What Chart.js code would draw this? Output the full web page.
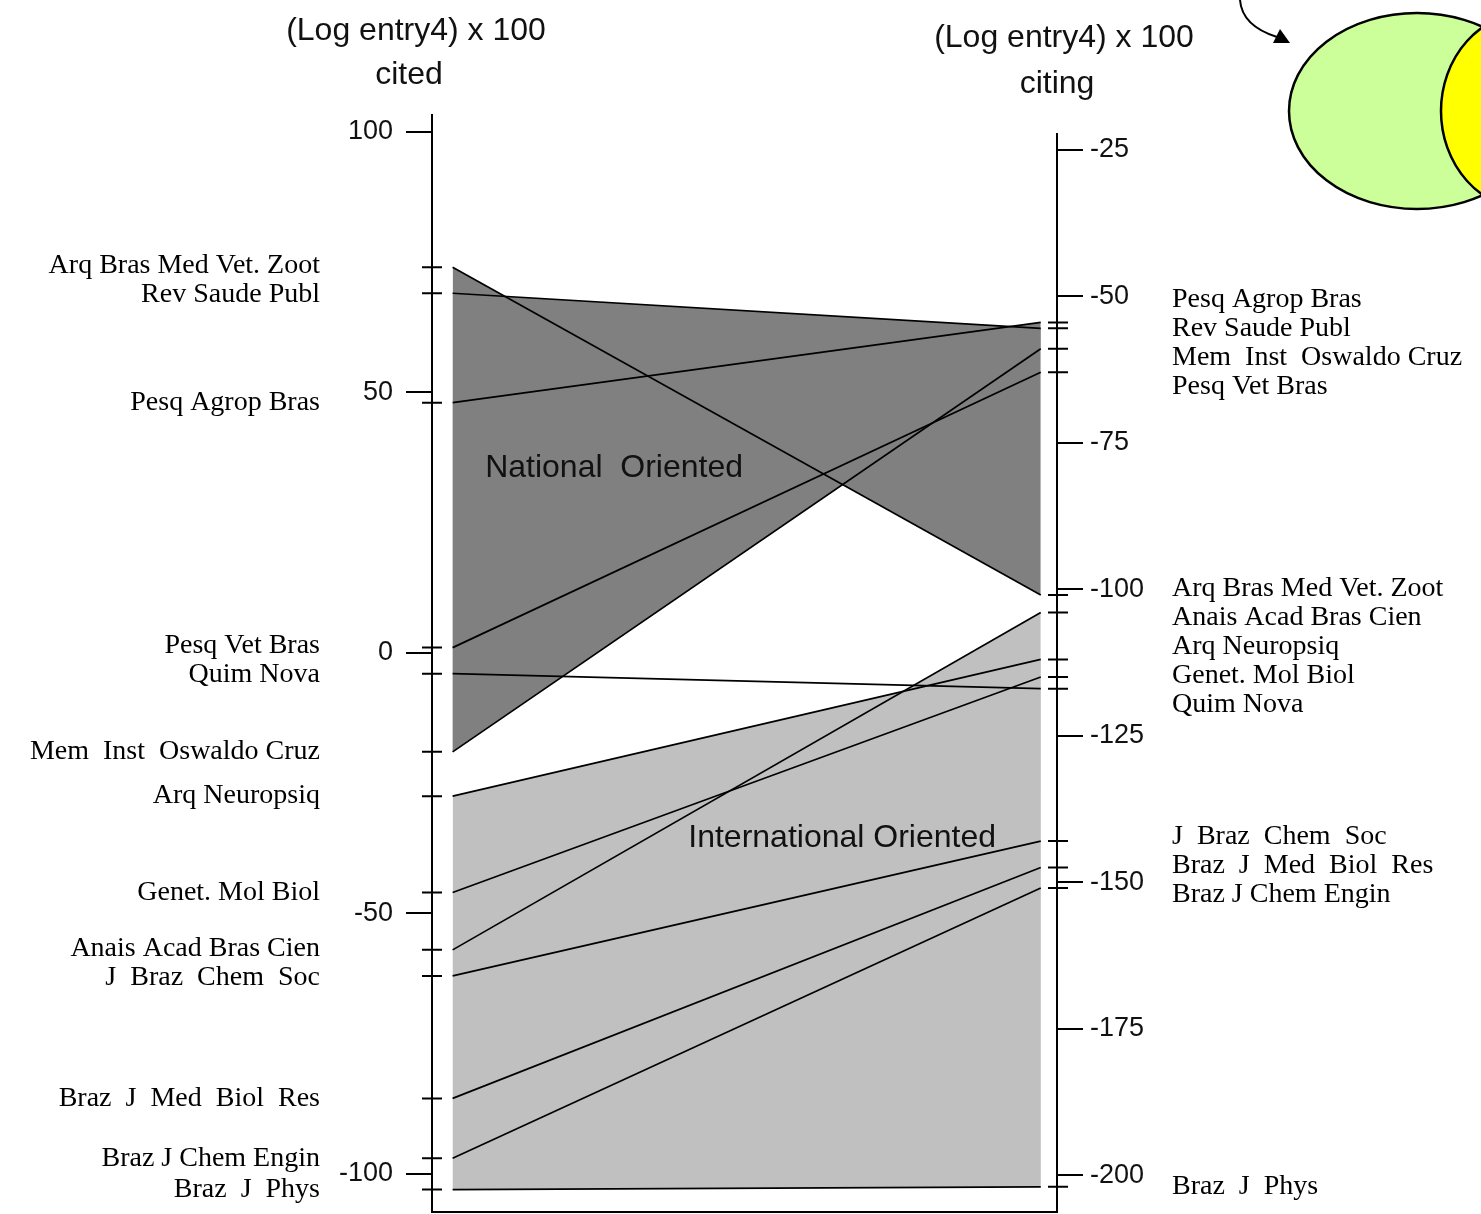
<!DOCTYPE html>
<html>
<head>
<meta charset="utf-8">
<title>Cited vs citing</title>
<script src="https://cdn.jsdelivr.net/npm/chart.js@4.4.1/dist/chart.umd.min.js"></script>
<style>
  html, body { margin: 0; padding: 0; background: #fff; }
  canvas { display: block; }
</style>
</head>
<body>
<canvas id="grafico" width="1481" height="1214"></canvas>
<script>
// journals, same order in the three lists (top to bottom on the cited axis)
const journals = [
  'Arq Bras Med Vet. Zoot', 'Rev Saude Publ', 'Pesq Agrop Bras', 'Pesq Vet Bras',
  'Quim Nova', 'Mem  Inst  Oswaldo Cruz', 'Arq Neuropsiq', 'Genet. Mol Biol',
  'Anais Acad Bras Cien', 'J  Braz  Chem  Soc', 'Braz  J  Med  Biol  Res',
  'Braz J Chem Engin', 'Braz  J  Phys'
];
const citedValues = [74, 69, 48, 1, -4, -19, -27.5, -46, -57, -62, -85.5, -97, -103];
const citingValues = [-101, -55.5, -54.5, -63, -117, -59, -112, -115, -104, -143, -147.5, -151, -202];

const citedTicks = [100, 50, 0, -50, -100];
const citingTicks = [-25, -50, -75, -100, -125, -150, -175, -200];

// shaded groups: upper edges filled down to the base journal
const nationalEdges = ['Arq Bras Med Vet. Zoot', 'Rev Saude Publ', 'Pesq Agrop Bras'];
const nationalBase = 'Mem  Inst  Oswaldo Cruz';
const internationalEdges = ['Arq Neuropsiq', 'Anais Acad Bras Cien'];
const internationalBase = 'Braz  J  Phys';

const DARK = '#808080';
const LIGHT = '#c0c0c0';

// axis ranges (both share the same plot height)
const L_MIN = -107.3, L_MAX = 103.2;
const R_MIN = -206.3, R_MAX = -19.1;
const X_START = 0.033, X_END = 0.974;

function toLeft(r) {
  return L_MIN + (r - R_MIN) * (L_MAX - L_MIN) / (R_MAX - R_MIN);
}

const datasets = journals.map((name, i) => ({
  label: name,
  data: [{ x: X_START, y: citedValues[i] }, { x: X_END, y: toLeft(citingValues[i]) }],
  borderColor: '#000',
  borderWidth: 1.7,
  pointRadius: 0,
  tension: 0,
  fill: false,
  yAxisID: 'yL'
}));

function setGroupFill(edges, base, color) {
  const target = journals.indexOf(base);
  edges.forEach(name => {
    const ds = datasets[journals.indexOf(name)];
    ds.backgroundColor = color;
    ds.fill = { target, above: color, below: color };
  });
}
setGroupFill(nationalEdges, nationalBase, DARK);
setGroupFill(internationalEdges, internationalBase, LIGHT);

// spread labels so they do not overlap
function spread(ys, gap) {
  const items = ys.map((y, i) => ({ y, i })).sort((a, b) => a.y - b.y);
  let groups = items.map(it => ({ members: [it], center: it.y }));
  let merged = true;
  while (merged) {
    merged = false;
    for (let k = 0; k < groups.length - 1; k++) {
      const a = groups[k], b = groups[k + 1];
      const aBottom = a.center + (a.members.length - 1) * gap / 2;
      const bTop = b.center - (b.members.length - 1) * gap / 2;
      if (bTop - aBottom < gap) {
        const members = a.members.concat(b.members);
        const center = members.reduce((s, m) => s + m.y, 0) / members.length;
        groups.splice(k, 2, { members, center });
        merged = true;
        break;
      }
    }
  }
  const out = [];
  groups.forEach(g => g.members.forEach((m, j) => {
    out[m.i] = g.center + (j - (g.members.length - 1) / 2) * gap;
  }));
  return out;
}

const regionLabels = [
  { text: 'National  Oriented', x: 0.085, y: 35.5, size: 32 },
  { text: 'International Oriented', x: 0.41, y: -35.5, size: 32 }
];

const decoPlugin = {
  id: 'deco',
  beforeDraw(chart) {
    const ctx = chart.ctx;
    ctx.save();
    ctx.lineWidth = 2.5;
    ctx.strokeStyle = '#000';
    ctx.fillStyle = '#ccff99';
    ctx.beginPath();
    ctx.ellipse(1417, 111, 128, 98, 0, 0, Math.PI * 2);
    ctx.fill(); ctx.stroke();
    ctx.fillStyle = '#ffff00';
    ctx.beginPath();
    ctx.ellipse(1530, 111, 89, 99, 0, 0, Math.PI * 2);
    ctx.fill(); ctx.stroke();
    // curved arrow
    ctx.lineWidth = 2;
    ctx.beginPath();
    ctx.moveTo(1240, 0);
    ctx.quadraticCurveTo(1242, 26, 1277, 37);
    ctx.stroke();
    ctx.fillStyle = '#000';
    ctx.beginPath();
    ctx.moveTo(1273, 43); ctx.lineTo(1280, 29); ctx.lineTo(1290, 43);
    ctx.closePath(); ctx.fill();
    ctx.restore();
  },
  afterDraw(chart) {
    const { ctx, chartArea: area, scales } = chart;
    const yL = scales.yL, yR = scales.yR, x = scales.x;
    ctx.save();

    // right axis line starts a little below the left one
    ctx.strokeStyle = '#000';
    ctx.lineWidth = 2;
    ctx.beginPath();
    ctx.moveTo(area.right, area.top + 18);
    ctx.lineTo(area.right, area.bottom + 1);
    ctx.stroke();

    // small journal ticks crossing both axes
    ctx.beginPath();
    citedValues.forEach(v => {
      const py = yL.getPixelForValue(v);
      ctx.moveTo(area.left - 10, py); ctx.lineTo(area.left + 10, py);
    });
    citingValues.forEach(v => {
      const py = yR.getPixelForValue(v);
      ctx.moveTo(area.right - 9, py); ctx.lineTo(area.right + 11, py);
    });
    ctx.stroke();

    // journal names
    ctx.fillStyle = '#000';
    ctx.textBaseline = 'middle';
    ctx.font = '28px "Liberation Serif", "DejaVu Serif", serif';
    const leftY = spread(citedValues.map(v => yL.getPixelForValue(v)), 29);
    ctx.textAlign = 'right';
    journals.forEach((name, i) => ctx.fillText(name, area.left - 112, leftY[i]));
    const rightY = spread(citingValues.map(v => yR.getPixelForValue(v)), 29);
    ctx.textAlign = 'left';
    journals.forEach((name, i) => ctx.fillText(name, area.right + 115, rightY[i]));

    // axis titles
    ctx.fillStyle = '#111';
    ctx.textAlign = 'center';
    ctx.font = '32px "Liberation Sans", Arial, sans-serif';
    ctx.fillText('(Log entry4) x 100', area.left - 16, 31);
    ctx.fillText('cited', area.left - 23, 75);
    ctx.fillText('(Log entry4) x 100', area.right + 7, 38);
    ctx.fillText('citing', area.right, 84);

    // region names
    ctx.textAlign = 'left';
    regionLabels.forEach(r => {
      ctx.font = r.size + 'px "Liberation Sans", Arial, sans-serif';
      ctx.fillText(r.text, x.getPixelForValue(r.x), yL.getPixelForValue(r.y));
    });
    ctx.restore();
  }
};

function axisOptions(position, min, max, ticksList, width, padding, showBorder) {
  return {
    type: 'linear',
    position,
    min,
    max,
    afterBuildTicks: s => { s.ticks = ticksList.map(v => ({ value: v })); },
    afterFit: s => { s.width = width; s.paddingTop = 0; s.paddingBottom = 0; },
    ticks: {
      color: '#111',
      font: { family: 'Liberation Sans', size: 27 },
      padding,
      callback: v => String(v)
    },
    grid: { drawOnChartArea: false, color: '#000', lineWidth: 2, tickLength: 26 },
    border: { display: showBorder, color: '#000', width: 2 }
  };
}

new Chart(document.getElementById('grafico'), {
  type: 'line',
  data: { datasets },
  plugins: [decoPlugin],
  options: {
    responsive: false,
    animation: false,
    devicePixelRatio: 1,
    layout: { padding: { top: 115, bottom: 2, left: 0, right: 0 } },
    plugins: {
      legend: { display: false },
      tooltip: { enabled: false },
      filler: { drawTime: 'beforeDatasetsDraw' }
    },
    scales: {
      x: {
        type: 'linear', min: 0, max: 1,
        ticks: { display: false },
        grid: { display: false, drawTicks: false },
        border: { display: true, color: '#000', width: 2 },
        afterFit: s => { s.height = 0; s.paddingLeft = 0; s.paddingRight = 0; }
      },
      yL: axisOptions('left', L_MIN, L_MAX, citedTicks, 432, 13, true),
      yR: axisOptions('right', R_MIN, R_MAX, citingTicks, 424, 7, false)
    }
  }
});
</script>
</body>
</html>
